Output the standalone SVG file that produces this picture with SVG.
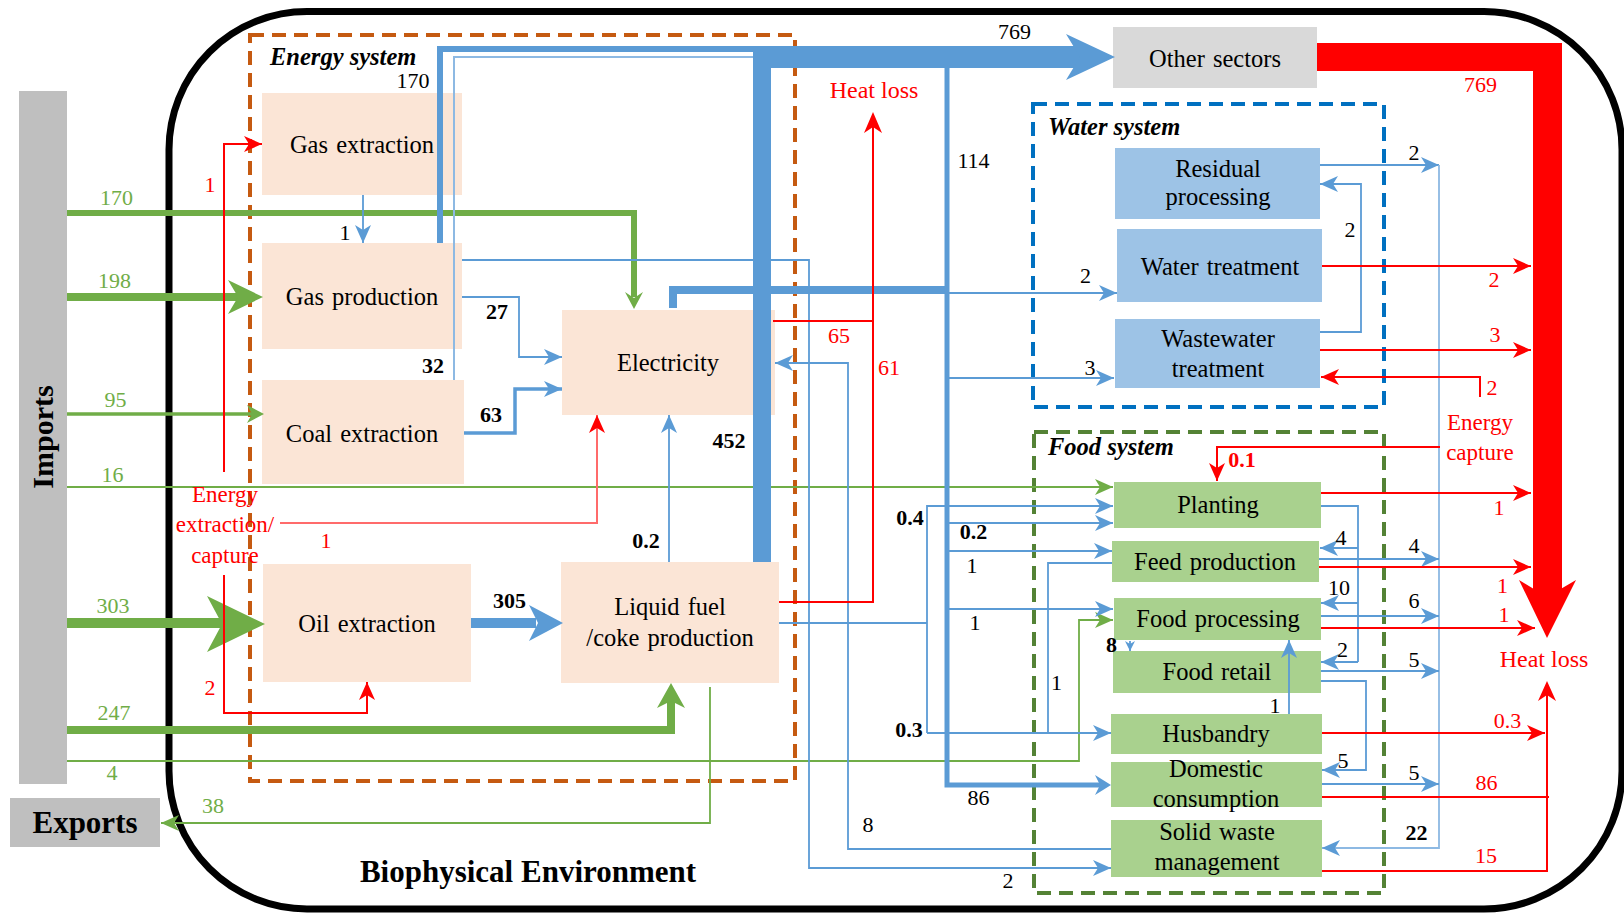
<svg xmlns="http://www.w3.org/2000/svg" width="1624" height="913" viewBox="0 0 1624 913">
  <style>
    text { font-family: "Liberation Serif", "Times New Roman", serif; }
    .peach { fill: #FBE5D6; }
    .wbox { fill: #9DC3E6; }
    .fbox { fill: #A9D18E; }
    .gray { fill: #BFBFBF; }
    .lbl { font-size: 24.5px; fill: #000; text-anchor: middle; word-spacing: 2px; }
    .num { font-size: 22px; fill: #000; text-anchor: middle; }
    .b { font-weight: bold; }
    .red { fill: #FF0000; }
    .grn { fill: #70AD47; }
    .sys { font-size: 24.5px; font-weight: bold; font-style: italic; fill: #000; }
    .ln { fill: none; stroke-linejoin: miter; }
    .bl { stroke: #5B9BD5; stroke-width: 1.8; }
    .rd { stroke: #FF0000; stroke-width: 2; }
    .gr { stroke: #70AD47; stroke-width: 1.8; }
  </style>
  <defs>
    <marker id="ab" markerUnits="userSpaceOnUse" markerWidth="18" markerHeight="16" viewBox="0 0 18 16" refX="18" refY="8" orient="auto">
      <path d="M0,0 L18,8 L0,16 L5,8 Z" fill="#5B9BD5"/>
    </marker>
    <marker id="abs" markerUnits="userSpaceOnUse" markerWidth="10" markerHeight="10" viewBox="0 0 10 10" refX="10" refY="5" orient="auto">
      <path d="M0,0 L10,5 L0,10 L3,5 Z" fill="#5B9BD5"/>
    </marker>
    <marker id="ar" markerUnits="userSpaceOnUse" markerWidth="18" markerHeight="16" viewBox="0 0 18 16" refX="18" refY="8" orient="auto">
      <path d="M0,0 L18,8 L0,16 L5,8 Z" fill="#FF0000"/>
    </marker>
    <marker id="arp" markerUnits="userSpaceOnUse" markerWidth="18" markerHeight="16" viewBox="0 0 18 16" refX="18" refY="8" orient="auto">
      <path d="M0,0 L18,8 L0,16 L5,8 Z" fill="#FF0000"/>
    </marker>
    <marker id="ag" markerUnits="userSpaceOnUse" markerWidth="18" markerHeight="16" viewBox="0 0 18 16" refX="18" refY="8" orient="auto">
      <path d="M0,0 L18,8 L0,16 L5,8 Z" fill="#70AD47"/>
    </marker>
  </defs>

  <rect width="1624" height="913" fill="#FFFFFF"/>

  <!-- environment boundary -->
  <rect x="169" y="11.5" width="1453" height="897.5" rx="138" ry="138" fill="none" stroke="#000" stroke-width="7"/>
  <text x="528" y="882" font-size="31" font-weight="bold" text-anchor="middle">Biophysical Environment</text>

  <!-- subsystem frames -->
  <g id="energy-system">
    <rect x="250" y="35" width="545" height="746" fill="none" stroke="#C55A11" stroke-width="4" stroke-dasharray="14 8"/>
    <text class="sys" x="270" y="65">Energy system</text>
  </g>
  <g id="water-system">
    <rect x="1033" y="104" width="351" height="303" fill="none" stroke="#0070C0" stroke-width="4" stroke-dasharray="14 8"/>
    <text class="sys" x="1048" y="135">Water system</text>
  </g>
  <g id="food-system">
    <rect x="1034" y="432" width="350" height="461" fill="none" stroke="#548235" stroke-width="4" stroke-dasharray="14 8"/>
    <text class="sys" x="1048" y="455">Food system</text>
  </g>

  <!-- nodes -->
  <g id="imports">
    <rect class="gray" x="19" y="91" width="48" height="693"/>
    <text x="43" y="437" font-size="30" font-weight="bold" text-anchor="middle" transform="rotate(-90 43 437)" dy="10">Imports</text>
  </g>
  <g id="exports">
    <rect class="gray" x="10" y="798" width="150" height="49"/>
    <text x="85" y="833" font-size="31" font-weight="bold" text-anchor="middle">Exports</text>
  </g>
  <g id="gas-extraction">
    <rect class="peach" x="262" y="93" width="200" height="102"/>
    <text class="lbl" x="362" y="153">Gas extraction</text>
  </g>
  <g id="gas-production">
    <rect class="peach" x="262" y="243" width="200" height="106"/>
    <text class="lbl" x="362" y="305">Gas production</text>
  </g>
  <g id="coal-extraction">
    <rect class="peach" x="262" y="380" width="202" height="104"/>
    <text class="lbl" x="362" y="442">Coal extraction</text>
  </g>
  <g id="oil-extraction">
    <rect class="peach" x="263" y="564" width="208" height="118"/>
    <text class="lbl" x="367" y="632">Oil extraction</text>
  </g>
  <g id="electricity">
    <rect class="peach" x="562" y="310" width="213" height="105"/>
    <text class="lbl" x="668" y="371">Electricity</text>
  </g>
  <g id="liquid-fuel">
    <rect class="peach" x="561" y="562" width="218" height="121"/>
    <text class="lbl" x="670" y="615">Liquid fuel</text>
    <text class="lbl" x="670" y="646">/coke production</text>
  </g>
  <g id="other-sectors">
    <rect x="1113" y="27" width="204" height="61" fill="#D9D9D9"/>
    <text class="lbl" x="1215" y="67">Other sectors</text>
  </g>
  <g id="residual-processing">
    <rect class="wbox" x="1115" y="148" width="205" height="71"/>
    <text class="lbl" x="1218" y="177">Residual</text>
    <text class="lbl" x="1218" y="205">processing</text>
  </g>
  <g id="water-treatment">
    <rect class="wbox" x="1117" y="229" width="205" height="73"/>
    <text class="lbl" x="1220" y="275">Water treatment</text>
  </g>
  <g id="wastewater-treatment">
    <rect class="wbox" x="1115" y="319" width="205" height="69"/>
    <text class="lbl" x="1218" y="347">Wastewater</text>
    <text class="lbl" x="1218" y="377">treatment</text>
  </g>
  <g id="planting">
    <rect class="fbox" x="1114" y="482" width="207" height="46"/>
    <text class="lbl" x="1218" y="513">Planting</text>
  </g>
  <g id="feed-production">
    <rect class="fbox" x="1112" y="541" width="207" height="41"/>
    <text class="lbl" x="1215" y="570">Feed production</text>
  </g>
  <g id="food-processing">
    <rect class="fbox" x="1114" y="598" width="207" height="42"/>
    <text class="lbl" x="1218" y="627">Food processing</text>
  </g>
  <g id="food-retail">
    <rect class="fbox" x="1113" y="651" width="208" height="42"/>
    <text class="lbl" x="1217" y="680">Food retail</text>
  </g>
  <g id="husbandry">
    <rect class="fbox" x="1111" y="714" width="211" height="40"/>
    <text class="lbl" x="1216" y="742">Husbandry</text>
  </g>
  <g id="domestic-consumption">
    <rect class="fbox" x="1111" y="762" width="211" height="45"/>
    <text class="lbl" x="1216" y="777">Domestic</text>
    <text class="lbl" x="1216" y="807">consumption</text>
  </g>
  <g id="solid-waste-management">
    <rect class="fbox" x="1111" y="820" width="211" height="57"/>
    <text class="lbl" x="1217" y="840">Solid waste</text>
    <text class="lbl" x="1217" y="870">management</text>
  </g>

  <!-- connectors -->
  <g id="connectors">
    <!-- imports (green) -->
    <path class="ln" d="M67,213 H634 V297" stroke="#70AD47" stroke-width="6"/>
    <path d="M625,292 L634,309 L643,292 L634,298 Z" fill="#70AD47"/>
    <path class="ln" d="M67,297 H238" stroke="#70AD47" stroke-width="8"/>
    <path d="M228,280 L263,297 L228,314 L238,297 Z" fill="#70AD47"/>
    <path class="ln" d="M67,414 H252" stroke="#70AD47" stroke-width="3.5"/>
    <path d="M247,405 L264,414 L247,423 L252,414 Z" fill="#70AD47"/>
    <path class="ln gr" d="M67,487 H1113" stroke-width="1.6" marker-end="url(#ag)"/>
    <path class="ln" d="M67,623 H222" stroke="#70AD47" stroke-width="10"/>
    <path d="M207,596 L265,624 L207,652 L222,624 Z" fill="#70AD47"/>
    <path class="ln" d="M67,730 H671 V700" stroke="#70AD47" stroke-width="8"/>
    <path d="M657,708 L671,683 L685,708 L671,701 Z" fill="#70AD47"/>
    <path class="ln gr" d="M67,761 H1079 V620 H1113" stroke-width="1.6" marker-end="url(#ag)"/>
    <path class="ln gr" d="M710,687 V823 H161" stroke-width="1.6" marker-end="url(#ag)"/>

    <!-- energy system red inputs -->
    <path class="ln rd" d="M224,472 V144 H262" stroke-width="1.8" marker-end="url(#ar)"/>
    <path class="ln rd" d="M224,575 V713 H367 V682" stroke-width="1.8" marker-end="url(#ar)"/>
    <path class="ln" d="M280,523 H597 V415" stroke="#FF6B6B" stroke-width="2" marker-end="url(#arp)"/>

    <!-- energy system blue flows -->
    <path class="ln bl" d="M363,195 V243" marker-end="url(#ab)"/>
    <path class="ln" d="M440,243 V49 H762" stroke="#5B9BD5" stroke-width="6"/>
    <path class="ln" d="M454,380 V57 H755" stroke="#8DB9E3" stroke-width="2"/>
    <path class="ln bl" d="M462,297 H519 V357 H562" marker-end="url(#ab)"/>
    <path class="ln" d="M464,433 H515 V389 H562" stroke="#5B9BD5" stroke-width="3.5" marker-end="url(#ab)"/>
    <path class="ln" d="M471,623 H536" stroke="#5B9BD5" stroke-width="10"/>
    <path d="M529,605 L563,623 L529,641 L538,623 Z" fill="#5B9BD5"/>
    <path class="ln bl" d="M669,562 V415" stroke="#8DB9E3" marker-end="url(#ab)"/>
    <path class="ln bl" d="M462,260 H809 V868 H1111" marker-end="url(#ab)"/>
    <path class="ln bl" d="M1111,849 H848 V363 H775" stroke="#8DB9E3" marker-end="url(#ab)"/>

    <!-- 452 / 769 trunk to other sectors -->
    <rect x="753" y="46" width="18" height="516" fill="#5B9BD5"/>
    <rect x="753" y="46" width="327" height="22" fill="#5B9BD5"/>
    <path d="M1066,34 L1115,57 L1066,80 L1080,57 Z" fill="#5B9BD5"/>

    <!-- electricity to water and food -->
    <path class="ln" d="M673,308 V290 H949" stroke="#5B9BD5" stroke-width="8"/>
    <path class="ln" d="M947,67 V785 H1100" stroke="#5B9BD5" stroke-width="5"/>
    <path d="M1095,775 L1111,785 L1095,795 L1100,785 Z" fill="#5B9BD5"/>
    <path class="ln bl" d="M949,293 H1117" marker-end="url(#ab)"/>
    <path class="ln bl" d="M949,378 H1114" marker-end="url(#ab)"/>
    <path class="ln bl" d="M949,523 H1113" marker-end="url(#ab)"/>
    <path class="ln bl" d="M949,551 H1112" marker-end="url(#ab)"/>
    <path class="ln bl" d="M949,609 H1113" marker-end="url(#ab)"/>

    <!-- liquid fuel to planting and husbandry -->
    <path class="ln bl" d="M779,623 H927"/>
    <path class="ln bl" d="M927,733 V506 H1113" marker-end="url(#ab)"/>
    <path class="ln bl" d="M927,733 H1111" marker-end="url(#ab)"/>
    <path class="ln bl" d="M1112,563 H1048 V733"/>

    <!-- heat loss from energy system -->
    <path class="ln rd" d="M773,321 H873" stroke-width="3"/>
    <path class="ln rd" d="M779,602 H873 V321" stroke-width="3"/>
    <path class="ln rd" d="M873,321 V126" stroke-width="4"/>
    <path d="M864,133 L873,112 L882,133 L873,127 Z" fill="#FF0000"/>

    <!-- other sectors heat loss -->
    <rect x="1317" y="43" width="245" height="28" fill="#FF0000"/>
    <rect x="1533" y="43" width="29" height="557" fill="#FF0000"/>
    <path d="M1519,580 L1547,638 L1576,580 L1547,597 Z" fill="#FF0000"/>

    <!-- water system -->
    <path class="ln bl" d="M1320,165 H1439" marker-end="url(#ab)"/>
    <path class="ln" d="M1439,165 V848 H1322" stroke="#8DB9E3" stroke-width="1.8" marker-end="url(#ab)"/>
    <path class="ln bl" d="M1320,332 H1361 V184 H1320" marker-end="url(#ab)"/>
    <path class="ln rd" d="M1322,266 H1531" marker-end="url(#ar)"/>
    <path class="ln rd" d="M1320,350 H1531" marker-end="url(#ar)"/>
    <path class="ln rd" d="M1480,397 V377 H1321" marker-end="url(#ar)"/>

    <!-- food system internal -->
    <path class="ln rd" d="M1440,447 H1217 V481" stroke-width="1.8" marker-end="url(#ar)"/>
    <path class="ln bl" d="M1130,641 V651" marker-end="url(#abs)"/>
    <path class="ln bl" d="M1289,714 V640" marker-end="url(#ab)"/>
    <path class="ln bl" d="M1321,506 H1358 V662"/>
    <path class="ln bl" d="M1358,548 H1320" marker-end="url(#ab)"/>
    <path class="ln bl" d="M1358,603 H1321" marker-end="url(#ab)"/>
    <path class="ln bl" d="M1358,662 H1321" marker-end="url(#ab)"/>
    <path class="ln bl" d="M1321,681 H1366 V770 H1322" marker-end="url(#ab)"/>
    <path class="ln bl" d="M1319,559 H1439" marker-end="url(#ab)"/>
    <path class="ln bl" d="M1321,616 H1439" marker-end="url(#ab)"/>
    <path class="ln bl" d="M1321,671 H1439" marker-end="url(#ab)"/>
    <path class="ln bl" d="M1322,784 H1439" marker-end="url(#ab)"/>

    <!-- food system heat loss -->
    <path class="ln rd" d="M1321,493 H1531" marker-end="url(#ar)"/>
    <path class="ln rd" d="M1319,567 H1531" marker-end="url(#ar)"/>
    <path class="ln rd" d="M1321,628 H1535" marker-end="url(#ar)"/>
    <path class="ln rd" d="M1322,733 H1545" marker-end="url(#ar)"/>
    <path class="ln rd" d="M1322,797 H1549" stroke-width="5"/>
    <path class="ln rd" d="M1322,871 H1547 V797" stroke-width="2"/>
    <path class="ln rd" d="M1547,799 V694" stroke-width="4"/>
    <path d="M1538,701 L1547,681 L1556,701 L1547,695 Z" fill="#FF0000"/>
  </g>

  <!-- flow values -->
  <g id="values-imports">
    <text class="num grn" x="116.5" y="205">170</text>
    <text class="num grn" x="114.5" y="288">198</text>
    <text class="num grn" x="115.5" y="407">95</text>
    <text class="num grn" x="112.5" y="482">16</text>
    <text class="num grn" x="113" y="613">303</text>
    <text class="num grn" x="114" y="720">247</text>
    <text class="num grn" x="112" y="780">4</text>
    <text class="num grn" x="213" y="813">38</text>
  </g>
  <g id="values-energy">
    <text class="num" x="413" y="88">170</text>
    <text class="num" x="345" y="240">1</text>
    <text class="num b" x="497" y="319">27</text>
    <text class="num b" x="433" y="373">32</text>
    <text class="num b" x="491" y="422">63</text>
    <text class="num b" x="729" y="448">452</text>
    <text class="num b" x="509.5" y="608">305</text>
    <text class="num b" x="646" y="548">0.2</text>
    <text class="num" x="1014.5" y="39">769</text>
    <text class="num" x="973.5" y="168">114</text>
    <text class="num" x="1085.5" y="283">2</text>
    <text class="num" x="1090" y="375">3</text>
    <text class="num b" x="910" y="525">0.4</text>
    <text class="num b" x="973.5" y="539">0.2</text>
    <text class="num" x="972" y="573">1</text>
    <text class="num" x="975" y="630">1</text>
    <text class="num" x="1056.5" y="690">1</text>
    <text class="num b" x="909" y="737">0.3</text>
    <text class="num" x="978.5" y="805">86</text>
    <text class="num" x="868" y="832">8</text>
    <text class="num" x="1008" y="888">2</text>
  </g>
  <g id="values-water-food">
    <text class="num" x="1414" y="160">2</text>
    <text class="num" x="1350" y="237">2</text>
    <text class="num b" x="1111.5" y="652">8</text>
    <text class="num" x="1275" y="713">1</text>
    <text class="num" x="1341" y="545">4</text>
    <text class="num" x="1339" y="595">10</text>
    <text class="num" x="1342.5" y="657">2</text>
    <text class="num" x="1343" y="768">5</text>
    <text class="num" x="1414" y="553">4</text>
    <text class="num" x="1414" y="608">6</text>
    <text class="num" x="1414" y="667">5</text>
    <text class="num" x="1414" y="780">5</text>
    <text class="num b" x="1416.5" y="840">22</text>
  </g>
  <g id="values-heat">
    <text class="num red" x="210" y="192">1</text>
    <text class="num red" x="326" y="548">1</text>
    <text class="num red" x="210" y="695">2</text>
    <text class="num red" x="839" y="343">65</text>
    <text class="num red" x="889" y="375">61</text>
    <text class="num red" x="1480.5" y="92">769</text>
    <text class="num red" x="1494" y="287">2</text>
    <text class="num red" x="1495" y="342">3</text>
    <text class="num red" x="1492" y="395">2</text>
    <text class="num red b" x="1242" y="467">0.1</text>
    <text class="num red" x="1499" y="515">1</text>
    <text class="num red" x="1502.5" y="593">1</text>
    <text class="num red" x="1504" y="622">1</text>
    <text class="num red" x="1507.5" y="728">0.3</text>
    <text class="num red" x="1486.5" y="790">86</text>
    <text class="num red" x="1486" y="863">15</text>
    <text x="874" y="98" font-size="24" fill="#FF0000" text-anchor="middle">Heat loss</text>
    <text x="1544" y="667" font-size="24" fill="#FF0000" text-anchor="middle">Heat loss</text>
    <text x="225" y="502" font-size="23" fill="#FF0000" text-anchor="middle">Energy</text>
    <text x="225" y="532" font-size="23" fill="#FF0000" text-anchor="middle">extraction/</text>
    <text x="225" y="563" font-size="23" fill="#FF0000" text-anchor="middle">capture</text>
    <text x="1480" y="430" font-size="23" fill="#FF0000" text-anchor="middle">Energy</text>
    <text x="1480" y="460" font-size="23" fill="#FF0000" text-anchor="middle">capture</text>
  </g>
</svg>
